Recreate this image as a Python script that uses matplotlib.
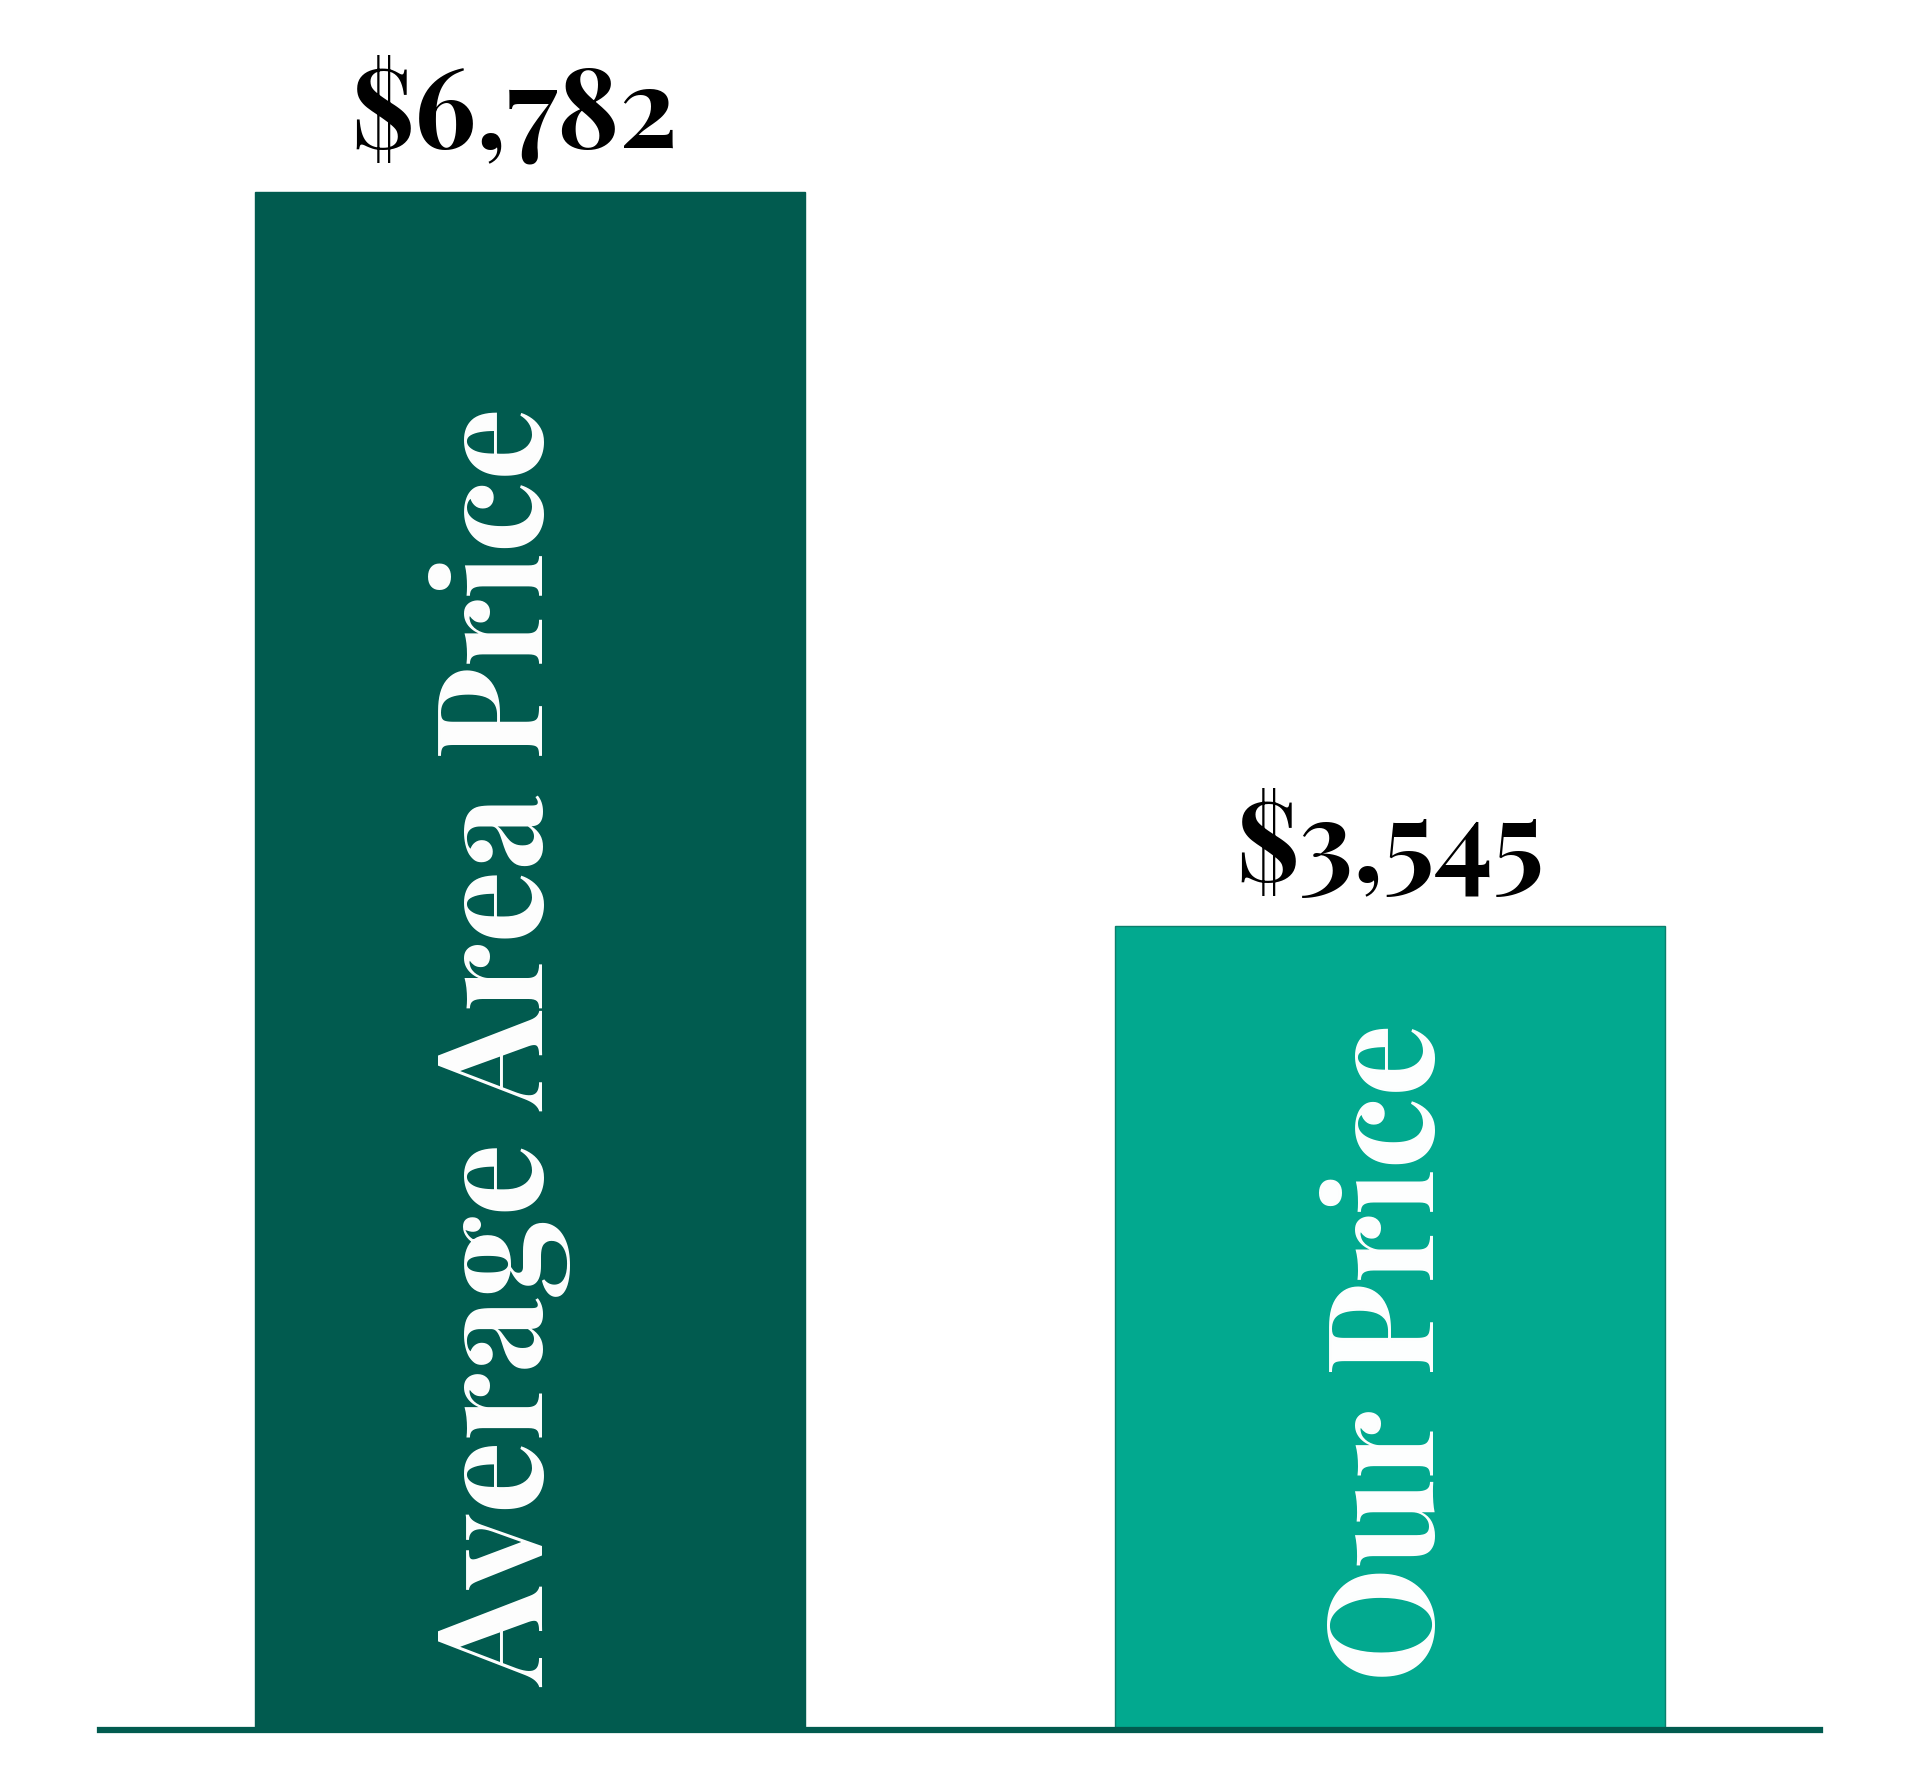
import os
import matplotlib
matplotlib.use("Agg")
import matplotlib.pyplot as plt
from matplotlib import font_manager as fm

categories = ["Average Area Price", "Our Price"]
values = [6782, 3545]
value_labels = ["$6,782", "$3,545"]
colors = ["#015B4F", "#02A98F"]


def pick_font(weight=700):
    var = [f for f in fm.fontManager.ttflist if f.name == "Playfair Display" and f.style == "normal"]
    if var:
        try:
            from fontTools.ttLib import TTFont
            from fontTools.varLib.instancer import instantiateVariableFont
            tt = TTFont(var[0].fname)
            inst = instantiateVariableFont(tt, {"wght": weight})
            path = os.path.abspath("playfair_bold_inst.ttf")
            inst.save(path)
            return fm.FontProperties(fname=path), False
        except Exception:
            return fm.FontProperties(fname=var[0].fname), True
    return fm.FontProperties(family=["Liberation Serif", "DejaVu Serif"], weight="bold"), False


fp, faux = pick_font(700)

DPI = 100
fig = plt.figure(figsize=(19.2, 17.92), dpi=DPI)
ax = fig.add_axes([100/1920, (1792-1730)/1792, 1720/1920, 1730/1792])

x = list(range(len(categories)))
ax.bar(x, values, width=0.64, color=colors, edgecolor=["#015B4F", "#0B7F6C"], linewidth=1.0, zorder=2)
ax.set_xlim(-0.5, 1.5)
ymax = values[0] * 1730 / (1730 - 192)
ax.set_ylim(0, ymax)

for s in ["top", "right", "left"]:
    ax.spines[s].set_visible(False)
ax.spines["bottom"].set_color("#015B4F")
ax.spines["bottom"].set_linewidth(4.5)
ax.spines["bottom"].set_zorder(3)
ax.set_xticks([])
ax.set_yticks([])

if faux:
    import matplotlib.patheffects as pe

label_dx = [-16, 0]
for xi, v, lab, dx in zip(x, values, value_labels, label_dx):
    t = ax.annotate(lab, xy=(xi, v), xytext=(dx, 45), textcoords="offset pixels",
                    ha="center", va="baseline", color="black", fontproperties=fp)
    t.set_fontsize(80)
    if faux:
        t.set_path_effects([pe.withStroke(linewidth=3, foreground="black")])

inner_dx = [15, 44]
inner_dy = [43, 48]
for xi, cat, dx, dy in zip(x, categories, inner_dx, inner_dy):
    t = ax.annotate(cat, xy=(xi, 0), xytext=(dx, dy), textcoords="offset pixels",
                    rotation=90, rotation_mode="anchor", ha="left", va="baseline",
                    color="white", fontproperties=fp)
    t.set_fontsize(105)
    if faux:
        t.set_path_effects([pe.withStroke(linewidth=4, foreground="white")])

fig.savefig("out.png", dpi=DPI, facecolor="white")
